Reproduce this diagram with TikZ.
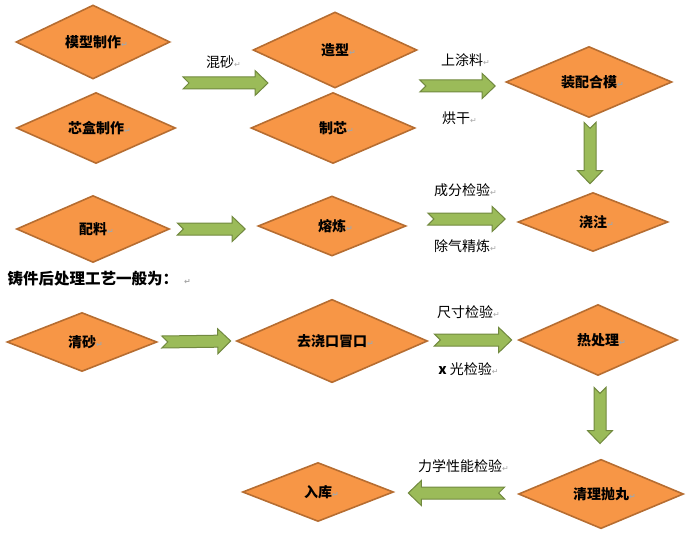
\documentclass[tikz,border=0pt]{standalone}
\usepackage{fontspec}
\setmainfont{Noto Sans CJK SC}
\newfontfamily\sym{DejaVu Sans}
\usetikzlibrary{shapes.geometric}
\usetikzlibrary{calc}
\definecolor{boxfill}{HTML}{F79646}
\definecolor{boxedge}{HTML}{B66D31}
\definecolor{arrfill}{HTML}{9BBB59}
\definecolor{arredge}{HTML}{71893F}
\newcommand\ret{\rlap{\textcolor{gray!70}{\sym\fontsize{8}{8}\selectfont ↵}}}
\tikzset{stage/.style={diamond, draw=boxedge, fill=boxfill, line width=1.6pt,
            inner sep=0pt, font=\fontsize{14}{14}\selectfont\bfseries},
         note/.style={font=\fontsize{14}{14}\selectfont},
         fat/.style={draw=arredge, fill=arrfill, line width=1pt, line join=miter,
            to path={($(\tikztostart)!6pt!90:(\tikztotarget)$)
              -- ($(\tikztotarget)!13pt!(\tikztostart)!6pt!90:(\tikztotarget)$)
              -- ($(\tikztotarget)!13pt!(\tikztostart)!12.5pt!90:(\tikztotarget)$)
              -- (\tikztotarget)
              -- ($(\tikztotarget)!13pt!(\tikztostart)!12.5pt!-90:(\tikztotarget)$)
              -- ($(\tikztotarget)!13pt!(\tikztostart)!6pt!-90:(\tikztotarget)$)
              -- ($(\tikztostart)!6pt!-90:(\tikztotarget)$)
              -- ($(\tikztostart)!6pt!(\tikztotarget)$) -- cycle}}}

\begin{document}
\begin{tikzpicture}[x=1pt,y=-1pt]
\useasboundingbox (0,0) rectangle (687,532);
% casting
\node [stage, minimum width=154pt, minimum height=74pt] (mold) at (93,42) {模型制作\ret};
\node [stage, minimum width=159pt, minimum height=71pt] (corebox) at (96,128) {芯盒制作\ret};
\node [stage, minimum width=164pt, minimum height=76pt] (shape) at (335,50) {造型\ret};
\node [stage, minimum width=164pt, minimum height=71pt] (core) at (333,128) {制芯\ret};
\node [stage, minimum width=166pt, minimum height=71pt] (close) at (589,82) {装配合模\ret};
\node [stage, minimum width=150pt, minimum height=59pt] (pour) at (593,222) {浇注\ret};
\node [stage, minimum width=153pt, minimum height=67pt] (charge) at (93,229) {配料\ret};
\node [stage, minimum width=148pt, minimum height=60pt] (melt) at (332,226) {熔炼\ret};
%
\coordinate (mixs) at (183,83);
\coordinate (mixe) at (268,83);
\draw [fat] (mixs) to (mixe);
\draw [fat] ($(shape.east)!0.5!(core.east)+(3,-3)$) to ($(close.west)+(-10,4)$);
\draw [fat] ($(close.south)+(1,4)$) to ($(pour.north)+(-3,-8)$);
\draw [fat] ($(charge.east)+(7,0)$) to ($(melt.west)+(-12,3)$);
\draw [fat] ($(melt.east)+(21,-7)$) to ($(pour.west)+(-12,-3)$);
\node [note] (l1) at (220,62) {混砂\ret};
\node [note] (l2) at (462,60) {上涂料\ret};
\node [note] (l3) at (456,118) {烘干\ret};
\node [note] (l4) at (462,190) {成分检验\ret};
\node [note] (l5) at (462,246) {除气精炼\ret};
% after treatment
\node [anchor=west, font=\fontsize{15.5}{15.5}\selectfont\bfseries] (title) at (4,279)
    {铸件后处理工艺一般为：\hspace{6pt}\ret};
\node [stage, minimum width=150pt, minimum height=59pt] (sand) at (82,342) {清砂\ret};
\node [stage, minimum width=191pt, minimum height=72pt] (gate) at (332,341) {去浇口冒口\ret};
\node [stage, minimum width=159pt, minimum height=71pt] (heat) at (598,340) {热处理\ret};
\node [stage, minimum width=165pt, minimum height=62pt] (blast) at (601,494) {清理抛丸\ret};
\node [stage, minimum width=151pt, minimum height=59pt] (store) at (318,492) {入库\ret};
%
\draw [fat] ($(sand.east)+(4,0)$) to ($(gate.west)+(-5,0)$);
\draw [fat] ($(gate.east)+(6,-1)$) to ($(heat.west)+(-6,0)$);
\draw [fat] ($(heat.south)+(2,11)$) to ($(blast.north)+(-1,-15)$);
\draw [fat] ($(blast.west)+(-13,-1)$) to ($(store.east)+(14,1)$);
\node [note] (l6) at (465,312) {尺寸检验\ret};
\node [note] (l7) at (465,369) {\textbf{x} 光检验\ret};
\node [note] (l8) at (460,466) {力学性能检验\ret};
\end{tikzpicture}
\end{document}
